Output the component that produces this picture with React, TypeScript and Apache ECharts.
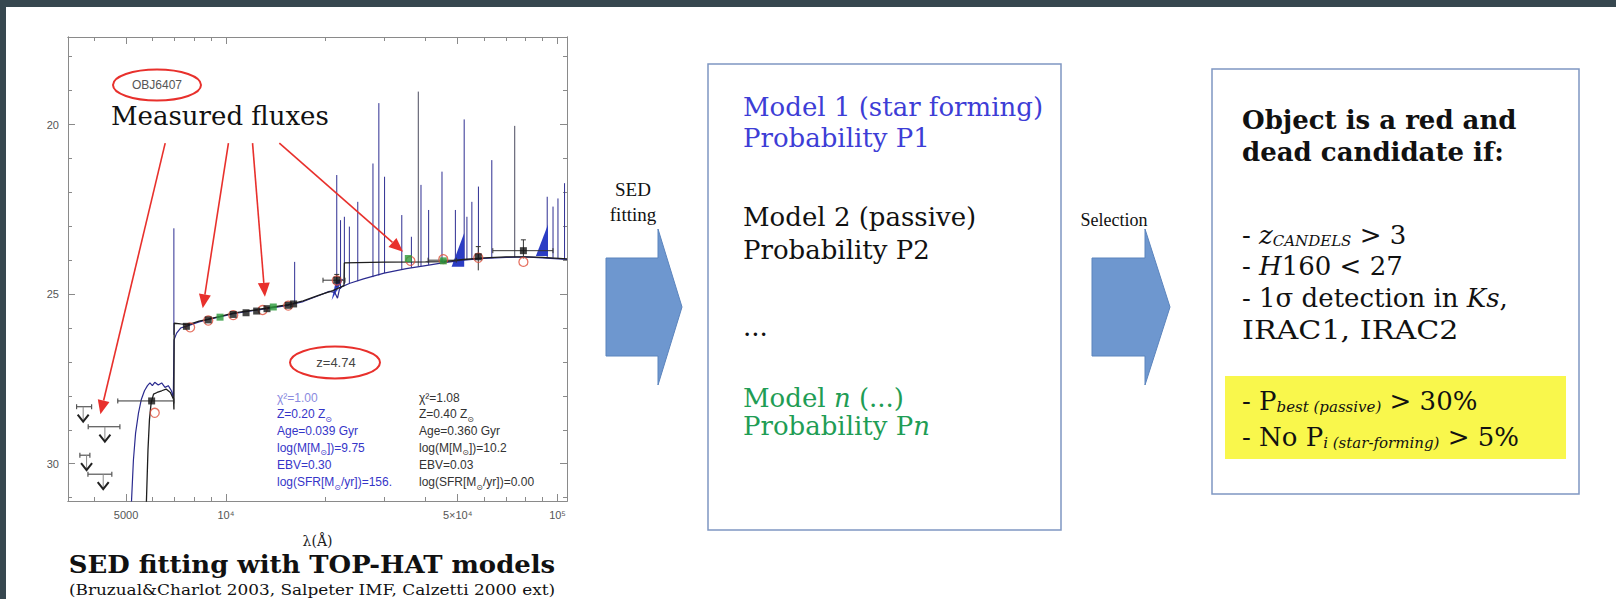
import React, { useEffect, useRef } from "react";
import * as echarts from "echarts";

const W = 1616;
const H = 599;
const SERIF = '"DejaVu Serif", serif';
const SANS = '"Liberation Sans", Arial, sans-serif';
const SLIDE_SERIF = '"Liberation Serif", serif';
const FRAME = "#8a8a8a";
const RED = "#e8302c";
const DARK = "#37474f";

// ---------- axes: wavelength (Å, log) and AB magnitude (inverted) ----------
const X_MIN = 3340;
const X_MAX = 106800;
const Y_MIN = 17.42;
const Y_MAX = 31.1;
const xMajorTicks = [5000, 10000, 50000, 100000];
const xMinorTicks = [4000, 6000, 7000, 8000, 9000, 20000, 30000, 40000, 60000, 70000, 80000, 90000];
const xTickLabels = ["5000", "10⁴", "5×10⁴", "10⁵"];
const yMajorTicks = [20, 25, 30];
const yMinorTicks = [18, 19, 21, 22, 23, 24, 26, 27, 28, 29, 31];

// ---------- best-fit templates [λ (Å), mag] ----------
const starFormingModel = [
  [5180, 31.3], [5260, 29.9], [5340, 29.1], [5450, 28.5], [5560, 28.1], [5680, 27.85],
  [5800, 27.7], [5900, 27.62], [6000, 27.7], [6100, 27.6], [6250, 27.68], [6400, 27.62],
  [6550, 27.75], [6700, 27.7], [6850, 27.85], [6940, 28.05], [6975, 26.35], [7100, 26.15],
  [7300, 26.0], [7700, 25.93], [8300, 25.82], [8845, 25.75], [9600, 25.67], [10520, 25.58],
  [11500, 25.52], [12378, 25.47], [13900, 25.4], [15417, 25.33], [17100, 25.22], [19000, 25.05],
  [20500, 24.92], [21300, 24.95], [21700, 25.12], [22000, 24.85], [22400, 24.78], [23660, 24.68],
  [26000, 24.55], [30000, 24.38], [35000, 24.25], [40000, 24.16], [45000, 24.08], [52000, 24.0],
  [60000, 23.95], [70000, 23.92], [80000, 23.9], [90000, 23.93], [106800, 23.98],
];
const passiveModel = [
  [5750, 31.3], [5820, 29.6], [5880, 28.7], [5950, 28.2], [6050, 27.95], [6200, 27.9],
  [6400, 27.85], [6600, 27.8], [6800, 27.9], [6950, 28.1], [6970, 28.4], [6980, 25.86],
  [7300, 25.88], [7700, 25.9], [8300, 25.8], [8845, 25.74], [9600, 25.66], [10520, 25.56],
  [11500, 25.5], [12378, 25.46], [13900, 25.38], [15417, 25.31], [17100, 25.2], [19000, 25.04],
  [21000, 24.9], [22700, 24.75], [22760, 24.08], [30000, 24.06], [40000, 24.05], [45500, 24.04],
  [52000, 23.98], [60000, 23.93], [70000, 23.9], [80000, 23.9], [90000, 23.92], [106800, 23.96],
];
// emission lines [λ, peak mag, continuum mag, tone]
const emissionLines = [
  [6967, 23.06, 26.2, 0], [16117, 24.05, 25.27, 0], [21590, 21.49, 24.9, 0], [22165, 22.82, 24.85, 0],
  [22760, 22.72, 24.7, 0], [23565, 23.01, 24.68, 0], [24980, 22.28, 24.62, 0], [27760, 21.15, 24.5, 0],
  [28920, 19.37, 24.45, 0], [30090, 21.54, 24.38, 0], [33910, 22.67, 24.28, 0], [36250, 23.31, 24.22, 0],
  [38030, 19.03, 24.18, 1], [38750, 21.78, 24.17, 0], [40860, 22.52, 24.14, 0], [44830, 21.39, 24.08, 0],
  [49200, 22.52, 24.02, 0], [52300, 19.85, 24.0, 0], [53300, 22.72, 24.0, 0], [55170, 22.28, 23.98, 0],
  [57740, 21.83, 23.96, 0], [63360, 21.05, 23.94, 0], [74290, 20.04, 23.92, 1], [93090, 22.13, 23.92, 0],
  [96920, 22.42, 23.93, 0], [100300, 22.18, 23.94, 0], [105000, 21.73, 23.97, 0],
];
// dense line blends drawn as filled wedges [λa, ma, λb, mb, λc, mc]
const lineWedges = [
  [47920, 24.19, 52300, 24.19, 52300, 23.2],
  [86030, 23.88, 93600, 23.88, 93600, 22.95],
  [20840, 25.18, 22580, 24.55, 21470, 24.6],
];
// photometry [λ, mag]
const fluxBlack = [
  [5970, 28.15], [7600, 25.95], [8845, 25.76], [10520, 25.6], [11500, 25.55], [12378, 25.5],
  [13300, 25.43], [15417, 25.33], [16000, 25.29], [21594, 24.59], [57680, 23.9], [78900, 23.72],
];
const fluxGreen = [[9600, 25.68], [13895, 25.38], [35480, 23.95], [45240, 24.02]];
const modelFluxes = [
  [6100, 28.5], [7800, 25.98], [8845, 25.78], [10520, 25.62], [12900, 25.47], [15417, 25.34],
  [21594, 24.6], [36000, 24.02], [45240, 23.97], [57680, 23.93], [78900, 24.05],
];
const errorsX = [
  [5970, 28.15, 4720, 6970], [21594, 24.59, 19620, 22860], [78900, 23.72, 63800, 96900],
  [45240, 24.0, 40700, 49500],
];
const errorsY = [[57680, 23.9, 23.6, 24.3], [78900, 23.72, 23.4, 23.95], [21594, 24.59, 24.42, 24.78]];
// non-detections [λ, limit mag, λlo, λhi]
const upperLimits = [
  [3711, 28.32, 3545, 3935], [4315, 28.91, 3843, 4789], [3800, 29.75, 3627, 3888], [4265, 30.31, 3836, 4528],
];
// pointers from the "Measured fluxes" label [λ0, m0, λ1, m1]
const pointerArrows = [
  [6559, 20.55, 4182, 28.54], [10175, 20.55, 8513, 25.42], [12030, 20.55, 13110, 25.08], [14490, 20.55, 34200, 23.75],
];
// fit parameters of the two templates
const fitStarForming = ["χ²=1.00", "Z=0.20 Z{s|⊙}", "Age=0.039 Gyr", "log(M[M{s|⊙}])=9.75", "EBV=0.30", "log(SFR[M{s|⊙}/yr])=156."];
const fitPassive = ["χ²=1.08", "Z=0.40 Z{s|⊙}", "Age=0.360 Gyr", "log(M[M{s|⊙}])=10.2", "EBV=0.03", "log(SFR[M{s|⊙}/yr])=0.00"];
const fitRows = [397.7, 414.3, 431, 447.7, 465, 482.3];

function xAxisDef(position: string, ticks: number[], len: number, labels: boolean) {
  return {
    type: "log",
    logBase: 10,
    min: X_MIN,
    max: X_MAX,
    position,
    axisLine: { show: true, onZero: false, lineStyle: { color: FRAME, width: 1 } },
    axisTick: { show: true, inside: true, length: len, customValues: ticks, lineStyle: { color: FRAME, width: 1 } },
    axisLabel: labels
      ? {
          show: true,
          customValues: xMajorTicks,
          margin: 8,
          color: "#555",
          fontSize: 11,
          fontFamily: SANS,
          formatter: (v: number) => {
            const i = xMajorTicks.findIndex((t) => Math.abs(t - v) / t < 1e-6);
            return i >= 0 ? xTickLabels[i] : "";
          },
        }
      : { show: false },
    splitLine: { show: false },
    minorTick: { show: false },
    name: labels ? "λ(Å)" : "",
    nameLocation: "middle",
    nameGap: 33,
    nameTextStyle: { fontFamily: SERIF, fontSize: 14, color: "#222" },
  };
}

function yAxisDef(position: string, ticks: number[], len: number, labels: boolean) {
  return {
    type: "value",
    inverse: true,
    min: Y_MIN,
    max: Y_MAX,
    position,
    axisLine: { show: true, onZero: false, lineStyle: { color: FRAME, width: 1 } },
    axisTick: { show: true, inside: true, length: len, customValues: ticks, lineStyle: { color: FRAME, width: 1 } },
    axisLabel: labels
      ? {
          show: true,
          customValues: yMajorTicks,
          margin: 9,
          color: "#555",
          fontSize: 11,
          fontFamily: SANS,
          formatter: (v: number) => String(Math.round(v)),
        }
      : { show: false },
    splitLine: { show: false },
    minorTick: { show: false },
  };
}

function txt(x: number, y: number, text: string, font: string, fill: string, extra: any = {}) {
  return {
    type: "text",
    x,
    y,
    z: 20,
    scaleX: extra.scaleX || 1,
    style: {
      text,
      font,
      fill,
      align: extra.align || "left",
      textAlign: extra.align || "left",
      verticalAlign: "middle",
      textVerticalAlign: "middle",
      rich: extra.rich,
    },
  };
}

function blockArrow(x0: number, x1: number, tip: number, cy: number, shaftHalf: number, headHalf: number) {
  return {
    type: "polygon",
    z: 5,
    shape: {
      points: [
        [x0, cy - shaftHalf], [x1, cy - shaftHalf], [x1, cy - headHalf], [tip, cy],
        [x1, cy + headHalf], [x1, cy + shaftHalf], [x0, cy + shaftHalf],
      ],
    },
    style: { fill: "#6e97cf", stroke: "#5b84bd", lineWidth: 1 },
  };
}

const big = (size: number, extra: any = {}) => ({ fontFamily: SERIF, fontSize: size, verticalAlign: "bottom", ...extra });

function buildGraphics() {
  const els: any[] = [];
  els.push({ type: "rect", z: 100, shape: { x: 0, y: 0, width: W, height: 7 }, style: { fill: DARK } });
  els.push({ type: "rect", z: 100, shape: { x: 0, y: 0, width: 6, height: H }, style: { fill: DARK } });

  // annotations inside the SED panel
  els.push(txt(111, 116, "Measured fluxes", `26px ${SERIF}`, "#111"));
  els.push({ type: "ellipse", z: 20, shape: { cx: 157, cy: 85, rx: 44, ry: 15.5 }, style: { fill: "none", stroke: RED, lineWidth: 2 } });
  els.push(txt(157, 85, "OBJ6407", `12px ${SANS}`, "#555", { align: "center" }));
  els.push({ type: "ellipse", z: 20, shape: { cx: 335, cy: 362.5, rx: 45, ry: 16 }, style: { fill: "none", stroke: RED, lineWidth: 2 } });
  els.push(txt(336, 362.5, "z=4.74", `13px ${SANS}`, "#444", { align: "center" }));
  const sub = { fontFamily: '"DejaVu Sans", sans-serif', fontSize: 8, verticalAlign: "bottom", padding: [0, 0, -3, 0] };
  fitStarForming.forEach((t, i) =>
    els.push(txt(277, fitRows[i], t, `12px ${SANS}`, i === 0 ? "#8a8ae0" : "#3535c8", { rich: { s: { ...sub, fill: "#3535c8" } } }))
  );
  fitPassive.forEach((t, i) => els.push(txt(419, fitRows[i], t, `12px ${SANS}`, "#333", { rich: { s: { ...sub, fill: "#333" } } })));

  // caption under the SED panel
  els.push(txt(312, 565, "SED fitting with TOP-HAT models", `bold 24px ${SERIF}`, "#111", { align: "center", scaleX: 1.08 }));
  els.push(txt(312, 589.5, "(Bruzual&Charlot 2003, Salpeter IMF, Calzetti 2000 ext)", `15.5px ${SERIF}`, "#111", { align: "center", scaleX: 1.09 }));

  // flow arrows
  els.push(blockArrow(606, 658, 682, 307, 49, 78));
  els.push(txt(633, 189, "SED", `19px ${SLIDE_SERIF}`, "#111", { align: "center" }));
  els.push(txt(633, 214, "fitting", `19px ${SLIDE_SERIF}`, "#111", { align: "center" }));
  els.push(blockArrow(1092, 1145, 1170, 307, 49, 78));
  els.push(txt(1114, 220, "Selection", `18px ${SLIDE_SERIF}`, "#111", { align: "center" }));

  // model box
  els.push({ type: "rect", z: 4, shape: { x: 708, y: 64, width: 353, height: 466 }, style: { fill: "#fff", stroke: "#7f97c2", lineWidth: 1.5 } });
  const blue = "#3d3dd6";
  const green = "#1f9d55";
  els.push(txt(743, 107, "Model 1 (star forming)", `26px ${SERIF}`, blue));
  els.push(txt(743, 138, "Probability P1", `26px ${SERIF}`, blue));
  els.push(txt(743, 217, "Model 2 (passive)", `26px ${SERIF}`, "#111"));
  els.push(txt(743, 250, "Probability P2", `26px ${SERIF}`, "#111"));
  els.push(txt(743, 327, "...", `26px ${SERIF}`, "#111"));
  els.push(
    txt(743, 398, "{a|Model }{b|n}{a| (...)}", `26px ${SERIF}`, green, {
      rich: { a: big(26, { fill: green }), b: big(26, { fill: green, fontStyle: "italic" }) },
    })
  );
  els.push(
    txt(743, 426, "{a|Probability P}{b|n}", `26px ${SERIF}`, green, {
      rich: { a: big(26, { fill: green }), b: big(26, { fill: green, fontStyle: "italic" }) },
    })
  );

  // selection box
  els.push({ type: "rect", z: 4, shape: { x: 1212, y: 69, width: 367, height: 425 }, style: { fill: "#fff", stroke: "#7f97c2", lineWidth: 1.5 } });
  els.push({ type: "rect", z: 5, shape: { x: 1225, y: 376, width: 341, height: 83 }, style: { fill: "#f9f74c" } });
  const ink = "#111";
  const R = {
    a: big(26, { fill: ink }),
    i: big(26, { fill: ink, fontStyle: "italic" }),
    c: big(15, { fill: ink, fontStyle: "italic" }),
    s: big(15, { fill: ink, fontStyle: "italic" }),
  };
  els.push(txt(1242, 120, "Object is a red and", `bold 26px ${SERIF}`, ink));
  els.push(txt(1242, 152, "dead candidate if:", `bold 26px ${SERIF}`, ink));
  els.push(txt(1242, 235, "{a|- }{i|z}{c|CANDELS}{a| > 3}", `26px ${SERIF}`, ink, { rich: R }));
  els.push(txt(1242, 266, "{a|- }{i|H}{a|160 < 27}", `26px ${SERIF}`, ink, { rich: R }));
  els.push(txt(1242, 298, "{a|- 1σ detection in }{i|Ks}{a|,}", `26px ${SERIF}`, ink, { rich: R }));
  els.push(txt(1242, 330, "IRAC1, IRAC2", `26px ${SERIF}`, ink, { scaleX: 1.16 }));
  els.push(txt(1242, 401, "{a|- P}{s|best (passive)}{a| > 30%}", `26px ${SERIF}`, ink, { rich: R }));
  els.push(txt(1242, 437, "{a|- No P}{s|i (star-forming)}{a| > 5%}", `26px ${SERIF}`, ink, { rich: R }));
  return els;
}

function buildOption() {
  return {
    animation: false,
    backgroundColor: "#ffffff",
    grid: { left: 68, top: 37, width: 499, height: 464, outerBoundsMode: "none" },
    xAxis: [
      xAxisDef("bottom", xMajorTicks, 7, true),
      xAxisDef("bottom", xMinorTicks, 4, false),
      xAxisDef("top", xMajorTicks, 7, false),
      xAxisDef("top", xMinorTicks, 4, false),
    ],
    yAxis: [
      yAxisDef("left", yMajorTicks, 7, true),
      yAxisDef("left", yMinorTicks, 4, false),
      yAxisDef("right", yMajorTicks, 7, false),
      yAxisDef("right", yMinorTicks, 4, false),
    ],
    series: [
      {
        type: "custom",
        name: "emission lines",
        data: emissionLines,
        clip: true,
        z: 2,
        renderItem: (_p: any, api: any) => {
          const a = api.coord([api.value(0), api.value(2)]);
          const b = api.coord([api.value(0), api.value(1)]);
          return {
            type: "line",
            shape: { x1: a[0], y1: a[1], x2: b[0], y2: b[1] },
            style: { stroke: api.value(3) === 1 ? "#4a4a5e" : "#2e2e92", lineWidth: 1 },
          };
        },
      },
      {
        type: "custom",
        name: "line blends",
        data: lineWedges,
        clip: true,
        z: 2,
        renderItem: (_p: any, api: any) => {
          const pts = [0, 2, 4].map((k) => api.coord([api.value(k), api.value(k + 1)]));
          return { type: "polygon", shape: { points: pts }, style: { fill: "#2b3cc4" } };
        },
      },
      {
        type: "line",
        name: "star-forming template",
        data: starFormingModel,
        symbol: "none",
        clip: true,
        z: 3,
        lineStyle: { color: "#2b2b8f", width: 1.2 },
      },
      {
        type: "line",
        name: "passive template",
        data: passiveModel,
        symbol: "none",
        clip: true,
        z: 3,
        lineStyle: { color: "#1e1e1e", width: 1.3 },
      },
      {
        type: "custom",
        name: "x errors",
        data: errorsX,
        z: 4,
        renderItem: (_p: any, api: any) => {
          const lo = api.coord([api.value(2), api.value(1)]);
          const hi = api.coord([api.value(3), api.value(1)]);
          return {
            type: "group",
            children: [
              { type: "line", shape: { x1: lo[0], y1: lo[1], x2: hi[0], y2: hi[1] }, style: { stroke: "#333", lineWidth: 1 } },
              { type: "line", shape: { x1: lo[0], y1: lo[1] - 2.5, x2: lo[0], y2: lo[1] + 2.5 }, style: { stroke: "#333", lineWidth: 1 } },
              { type: "line", shape: { x1: hi[0], y1: hi[1] - 2.5, x2: hi[0], y2: hi[1] + 2.5 }, style: { stroke: "#333", lineWidth: 1 } },
            ],
          };
        },
      },
      {
        type: "custom",
        name: "y errors",
        data: errorsY,
        z: 4,
        renderItem: (_p: any, api: any) => {
          const lo = api.coord([api.value(0), api.value(2)]);
          const hi = api.coord([api.value(0), api.value(3)]);
          return {
            type: "group",
            children: [
              { type: "line", shape: { x1: lo[0], y1: lo[1], x2: hi[0], y2: hi[1] }, style: { stroke: "#333", lineWidth: 1 } },
              { type: "line", shape: { x1: lo[0] - 2.5, y1: lo[1], x2: lo[0] + 2.5, y2: lo[1] }, style: { stroke: "#333", lineWidth: 1 } },
            ],
          };
        },
      },
      {
        type: "custom",
        name: "upper limits",
        data: upperLimits,
        z: 4,
        renderItem: (_p: any, api: any) => {
          const c = api.coord([api.value(0), api.value(1)]);
          const lo = api.coord([api.value(2), api.value(1)]);
          const hi = api.coord([api.value(3), api.value(1)]);
          return {
            type: "group",
            children: [
              { type: "line", shape: { x1: lo[0], y1: lo[1], x2: hi[0], y2: hi[1] }, style: { stroke: "#555", lineWidth: 1.2 } },
              { type: "line", shape: { x1: lo[0], y1: lo[1] - 2.5, x2: lo[0], y2: lo[1] + 2.5 }, style: { stroke: "#555", lineWidth: 1.2 } },
              { type: "line", shape: { x1: hi[0], y1: hi[1] - 2.5, x2: hi[0], y2: hi[1] + 2.5 }, style: { stroke: "#555", lineWidth: 1.2 } },
              { type: "line", shape: { x1: c[0], y1: c[1], x2: c[0], y2: c[1] + 14 }, style: { stroke: "#888", lineWidth: 1 } },
              {
                type: "polyline",
                shape: { points: [[c[0] - 5.5, c[1] + 8], [c[0], c[1] + 15], [c[0] + 5.5, c[1] + 8]] },
                style: { stroke: "#222", lineWidth: 2, fill: "none" },
              },
            ],
          };
        },
      },
      {
        type: "scatter",
        name: "template fluxes",
        data: modelFluxes,
        symbol: "circle",
        symbolSize: 9,
        z: 5,
        itemStyle: { color: "rgba(0,0,0,0)", borderColor: "#e0503c", borderWidth: 1.3 },
      },
      {
        type: "scatter",
        name: "measured",
        data: fluxBlack,
        symbol: "rect",
        symbolSize: 7,
        z: 6,
        itemStyle: { color: "#151515" },
      },
      {
        type: "scatter",
        name: "measured (green)",
        data: fluxGreen,
        symbol: "rect",
        symbolSize: 7,
        z: 6,
        itemStyle: { color: "#2a9a3a" },
      },
      {
        type: "custom",
        name: "pointers",
        data: pointerArrows,
        z: 8,
        renderItem: (_p: any, api: any) => {
          const a = api.coord([api.value(0), api.value(1)]);
          const b = api.coord([api.value(2), api.value(3)]);
          const dx = b[0] - a[0];
          const dy = b[1] - a[1];
          const L = Math.hypot(dx, dy);
          const ux = dx / L;
          const uy = dy / L;
          const hl = 14;
          const hw = 6;
          const bx = b[0] - ux * hl;
          const by = b[1] - uy * hl;
          return {
            type: "group",
            children: [
              { type: "line", shape: { x1: a[0], y1: a[1], x2: bx, y2: by }, style: { stroke: RED, lineWidth: 1.6 } },
              {
                type: "polygon",
                shape: { points: [[b[0], b[1]], [bx - uy * hw, by + ux * hw], [bx + uy * hw, by - ux * hw]] },
                style: { fill: RED },
              },
            ],
          };
        },
      },
    ],
    graphic: { elements: buildGraphics() },
  };
}

export default function App() {
  const ref = useRef<HTMLDivElement>(null);
  useEffect(() => {
    document.body.style.margin = "0";
    if (!ref.current) return;
    const chart = echarts.init(ref.current, null, { renderer: "svg" });
    chart.setOption(buildOption() as any);
    return () => chart.dispose();
  }, []);
  return <div ref={ref} style={{ width: W, height: H }} />;
}
